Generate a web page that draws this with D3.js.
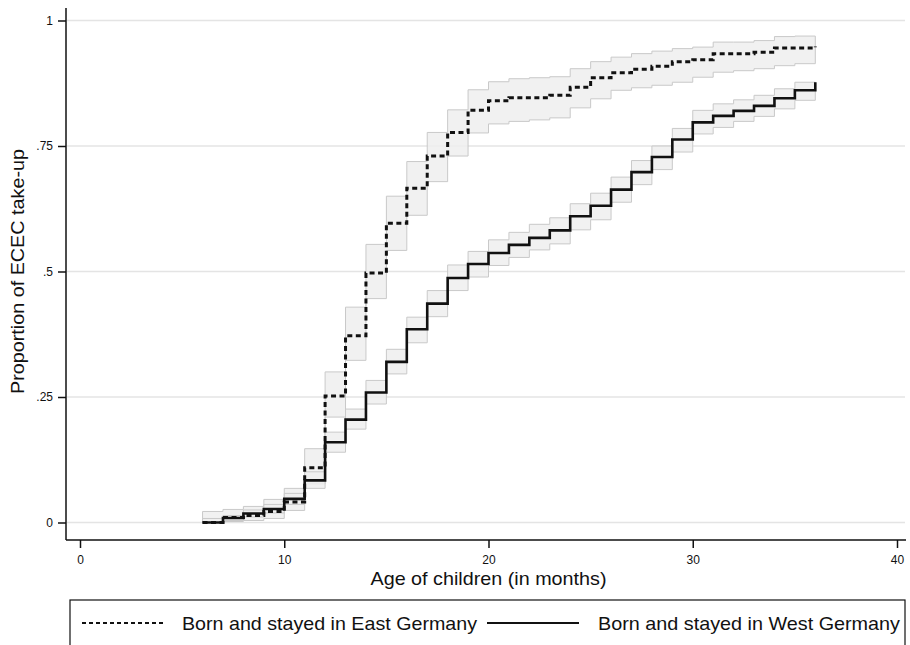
<!DOCTYPE html>
<html>
<head>
<meta charset="utf-8">
<script src="https://d3js.org/d3.v7.min.js"></script>
<style>
  body { margin: 0; background: #fff; }
  text { font-family: "Liberation Sans", Arial, sans-serif; fill: #111; }
</style>
</head>
<body>
<svg id="chart" width="910" height="645"></svg>
<script>
// months at which the step functions change
const months = [6,7,8,9,10,11,12,13,14,15,16,17,18,19,20,21,22,23,24,25,26,27,28,29,30,31,32,33,34,35,36];

// Born and stayed in East Germany
const eastValue = [0.000,0.010,0.014,0.022,0.041,0.109,0.252,0.372,0.497,0.596,0.666,0.730,0.777,0.821,0.840,0.846,0.846,0.851,0.867,0.886,0.896,0.903,0.909,0.918,0.922,0.934,0.934,0.937,0.945,0.945,0.948];
const eastLow   = [0.000,0.002,0.004,0.008,0.024,0.077,0.210,0.323,0.446,0.542,0.612,0.679,0.730,0.776,0.794,0.799,0.802,0.806,0.826,0.844,0.861,0.866,0.871,0.877,0.887,0.897,0.900,0.904,0.910,0.914,0.914];
const eastHigh  = [0.022,0.026,0.032,0.046,0.068,0.147,0.300,0.429,0.554,0.650,0.719,0.777,0.822,0.862,0.878,0.884,0.886,0.888,0.904,0.918,0.927,0.934,0.939,0.944,0.947,0.957,0.957,0.960,0.968,0.969,0.969];

// Born and stayed in West Germany
const westValue = [0.000,0.009,0.018,0.027,0.047,0.084,0.160,0.205,0.259,0.320,0.385,0.436,0.487,0.515,0.537,0.553,0.567,0.582,0.610,0.631,0.663,0.698,0.728,0.763,0.797,0.810,0.820,0.830,0.845,0.861,0.877];
const westLow   = [0.000,0.004,0.011,0.019,0.036,0.068,0.140,0.186,0.236,0.296,0.358,0.410,0.462,0.489,0.512,0.528,0.543,0.555,0.583,0.603,0.638,0.673,0.703,0.738,0.774,0.787,0.799,0.809,0.824,0.841,0.841];
const westHigh  = [0.008,0.014,0.025,0.036,0.058,0.101,0.180,0.226,0.283,0.345,0.409,0.462,0.513,0.540,0.563,0.578,0.594,0.607,0.635,0.656,0.688,0.721,0.750,0.785,0.821,0.834,0.842,0.851,0.864,0.877,0.877];

const xTicks = [0,10,20,30,40];
const yTicks = [0,0.25,0.5,0.75,1];
const legendLabels = ["Born and stayed in East Germany", "Born and stayed in West Germany"];

const svg = d3.select("#chart");

const x = d3.scaleLinear().domain([0,40]).range([80,897]);
const y = d3.scaleLinear().domain([0,1]).range([522.5,20.5]);

// gridlines
svg.append("g")
  .selectAll("line")
  .data(yTicks)
  .join("line")
    .attr("x1", 67).attr("x2", 905)
    .attr("y1", d => y(d)).attr("y2", d => y(d))
    .attr("stroke", "#e4e4e4")
    .attr("stroke-width", 1.5);

// axes
const yAxis = d3.axisLeft(y)
  .tickValues(yTicks)
  .tickSize(8)
  .tickPadding(5)
  .tickFormat(d => d === 0 ? "0" : d === 1 ? "1" : d3.format(".2~f")(d).replace(/^0/, ""));
const gy = svg.append("g").attr("transform", "translate(66,0)").call(yAxis);
gy.select(".domain").remove();
gy.append("line").attr("x1", 0).attr("x2", 0).attr("y1", 8).attr("y2", 540)
  .attr("stroke", "#111").attr("stroke-width", 1.5);

const xAxis = d3.axisBottom(x)
  .tickValues(xTicks)
  .tickSize(8)
  .tickPadding(7)
  .tickFormat(d3.format("d"));
const gx = svg.append("g").attr("transform", "translate(0,540)").call(xAxis);
gx.select(".domain").remove();
gx.append("line").attr("x1", 66).attr("x2", 906).attr("y1", 0).attr("y2", 0)
  .attr("stroke", "#111").attr("stroke-width", 1.5);

svg.selectAll(".tick line").attr("stroke", "#111").attr("stroke-width", 1.5);
svg.selectAll(".tick text").style("font-size", "12px").attr("fill", "#111");

// axis titles
svg.append("text")
  .attr("x", x(20)).attr("y", 585)
  .attr("text-anchor", "middle")
  .attr("textLength", 236)
  .attr("lengthAdjust", "spacingAndGlyphs")
  .style("font-size", "19px")
  .text("Age of children (in months)");

svg.append("text")
  .attr("transform", "translate(24," + y(0.5) + ") rotate(-90)")
  .attr("text-anchor", "middle")
  .attr("textLength", 245)
  .attr("lengthAdjust", "spacingAndGlyphs")
  .style("font-size", "19px")
  .text("Proportion of ECEC take-up");

// confidence bands
const bandArea = d3.area()
  .curve(d3.curveStepAfter)
  .x(d => x(d.m))
  .y0(d => y(d.lo))
  .y1(d => y(d.hi));

const eastBand = months.map((m, i) => ({m: m, lo: eastLow[i], hi: eastHigh[i]}));
const westBand = months.map((m, i) => ({m: m, lo: westLow[i], hi: westHigh[i]}));

svg.append("g")
  .selectAll("path")
  .data([eastBand, westBand])
  .join("path")
    .attr("d", bandArea)
    .attr("fill", "#efefef")
    .attr("fill-opacity", 0.85)
    .attr("stroke", "#c9c9c9")
    .attr("stroke-width", 1);

// survival-type step lines
const stepLine = d3.line()
  .curve(d3.curveStepAfter)
  .x(d => x(d.m))
  .y(d => y(d.v));

const eastLine = months.map((m, i) => ({m: m, v: eastValue[i]}));
const westLine = months.map((m, i) => ({m: m, v: westValue[i]}));

svg.append("path")
  .attr("d", stepLine(westLine))
  .attr("fill", "none")
  .attr("stroke", "#111")
  .attr("stroke-width", 2.6);

svg.append("path")
  .attr("d", stepLine(eastLine))
  .attr("fill", "none")
  .attr("stroke", "#111")
  .attr("stroke-width", 3)
  .attr("stroke-dasharray", "5,3.5");

// legend
const legend = svg.append("g");
legend.append("rect")
  .attr("x", 70).attr("y", 600)
  .attr("width", 835).attr("height", 70)
  .attr("fill", "none")
  .attr("stroke", "#111")
  .attr("stroke-width", 1.2);

legend.append("line")
  .attr("x1", 82).attr("x2", 166).attr("y1", 623).attr("y2", 623)
  .attr("stroke", "#111").attr("stroke-width", 2.2)
  .attr("stroke-dasharray", "4,3");
legend.append("text")
  .attr("x", 182).attr("y", 630)
  .attr("textLength", 295)
  .attr("lengthAdjust", "spacingAndGlyphs")
  .style("font-size", "19px")
  .text(legendLabels[0]);

legend.append("line")
  .attr("x1", 487).attr("x2", 579).attr("y1", 623).attr("y2", 623)
  .attr("stroke", "#111").attr("stroke-width", 2.2);
legend.append("text")
  .attr("x", 598).attr("y", 630)
  .attr("textLength", 302)
  .attr("lengthAdjust", "spacingAndGlyphs")
  .style("font-size", "19px")
  .text(legendLabels[1]);
</script>
</body>
</html>
